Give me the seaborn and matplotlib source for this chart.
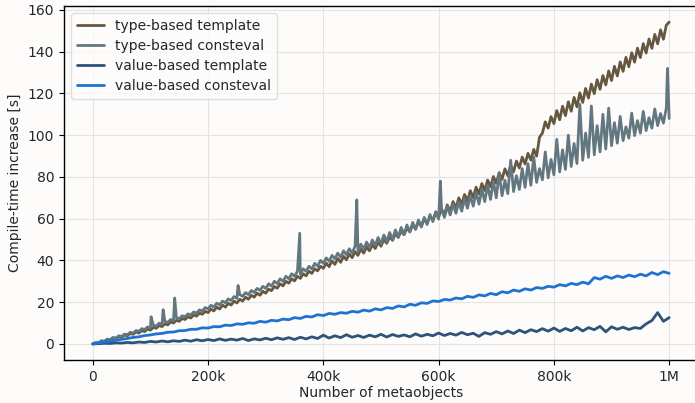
import pandas as pd
import seaborn as sns
import matplotlib.pyplot as plt
from matplotlib.ticker import FuncFormatter

# metaobject counts, in thousands
objects_k_fine = list(range(0, 1001, 5))    # type-based runs, every 5k
objects_k = list(range(0, 1001, 10))        # value-based runs, every 10k

type_template = [
    0, 0.5, 0.5, 1.4, 1.1, 2.1, 1.8, 2.8, 2.5, 3.5,
    3.2, 4.2, 3.9, 5.0, 4.6, 5.7, 5.2, 6.4, 5.9, 7.1,
    6.6, 7.9, 7.5, 8.8, 8.3, 9.6, 9.1, 10.5, 10.0, 11.3,
    10.8, 12.2, 11.7, 13.0, 12.4, 13.9, 13.3, 14.8, 14.2, 15.6,
    15.0, 16.7, 15.8, 17.6, 16.7, 18.6, 17.6, 19.5, 18.6, 20.5,
    19.6, 21.4, 20.5, 22.4, 21.4, 23.3, 22.4, 24.3, 23.3, 25.2,
    24.3, 26.3, 25.5, 27.5, 26.7, 28.8, 27.8, 30.0, 29.1, 31.2,
    30.2, 32.4, 31.4, 33.6, 32.6, 34.8, 33.8, 36.0, 35.0, 37.2,
    36.2, 38.7, 37.0, 39.8, 38.1, 40.9, 39.1, 42.0, 40.3, 43.1,
    41.3, 44.2, 42.4, 45.4, 43.5, 46.4, 44.6, 47.5, 45.7, 48.7,
    46.8, 50.0, 48.2, 51.3, 49.6, 52.8, 51.0, 54.1, 52.3, 55.5,
    53.8, 56.9, 55.2, 58.4, 56.6, 59.7, 58.0, 61.1, 59.4, 62.6,
    60.8, 64.8, 61.8, 66.6, 63.4, 68.2, 65.1, 70.0, 66.8, 71.6,
    68.5, 73.4, 70.1, 75.1, 71.9, 76.8, 73.5, 78.5, 75.3, 80.2,
    77.0, 82.0, 78.8, 83.9, 80.6, 85.7, 82.5, 87.6, 84.3, 89.5,
    86.2, 91.3, 88.1, 93.2, 90.0, 99.0, 101.0, 106.4, 103.4, 108.9,
    105.6, 111.8, 107.4, 113.9, 109.4, 116.0, 111.5, 118.1, 113.6, 120.3,
    115.7, 122.4, 117.8, 124.5, 119.9, 126.6, 122.0, 128.6, 124.1, 130.8,
    126.2, 133.0, 128.4, 135.1, 130.6, 137.3, 132.8, 139.5, 135.0, 141.7,
    137.2, 143.9, 139.4, 146.1, 141.6, 148.3, 143.8, 150.5, 146.0, 152.7,
    154.2,
]

type_consteval = [
    0, 0.6, 0.6, 1.5, 1.3, 2.3, 2.0, 3.1, 2.8, 3.9,
    3.6, 4.7, 4.4, 5.6, 5.2, 6.4, 6.0, 7.3, 6.9, 8.1,
    7.7, 9.0, 8.5, 9.9, 9.4, 10.8, 10.3, 11.7, 11.2, 12.6,
    12.1, 13.5, 13.0, 14.4, 13.9, 15.3, 14.8, 16.3, 15.8, 17.4,
    16.8, 18.5, 17.7, 19.5, 18.7, 20.5, 19.7, 21.6, 20.8, 22.7,
    21.8, 23.6, 22.8, 24.6, 23.6, 25.6, 24.6, 26.6, 25.6, 27.6,
    26.6, 28.8, 27.7, 30.0, 28.9, 31.2, 30.0, 32.4, 31.2, 33.6,
    32.4, 34.8, 33.4, 36.0, 34.8, 37.2, 35.9, 38.6, 37.2, 40.0,
    38.6, 41.2, 39.6, 42.4, 40.8, 43.5, 41.6, 44.6, 42.8, 45.6,
    43.6, 46.8, 44.4, 47.8, 45.4, 48.8, 46.2, 49.8, 47.2, 51.0,
    48.0, 52.2, 49.0, 53.4, 50.0, 54.6, 51.2, 55.8, 52.4, 57.0,
    53.6, 58.2, 54.8, 59.4, 56.0, 60.6, 57.2, 62.0, 58.6, 63.4,
    59.8, 64.6, 60.6, 65.8, 61.8, 67.0, 62.6, 68.0, 63.6, 69.6,
    65.0, 71.0, 66.0, 72.6, 67.0, 74.0, 68.2, 76.0, 69.2, 78.0,
    70.0, 82.0, 71.0, 78.4, 72.0, 88.0, 73.0, 80.6, 74.0, 84.0,
    75.0, 86.4, 76.0, 89.6, 77.4, 84.0, 78.6, 92.0, 79.6, 88.4,
    81.0, 98.0, 82.4, 93.0, 83.6, 100.0, 85.0, 96.0, 86.4, 114.8,
    88.0, 101.0, 89.4, 114.0, 90.6, 104.6, 92.0, 110.0, 93.4, 113.0,
    95.0, 106.0, 96.2, 109.0, 97.4, 104.0, 98.6, 110.6, 99.8, 107.0,
    101.0, 111.4, 102.2, 108.4, 103.4, 112.6, 104.6, 110.4, 105.8, 113.0,
    108.0,
]

# single-sample outliers of the type-based consteval run
consteval_spike_k = [101, 122, 142, 252, 359, 458, 603, 997]
consteval_spike_s = [13.0, 16.4, 22.0, 28.0, 53.0, 69.0, 78.0, 132.0]

value_template = [
    0, 0.1, 0.3, 0.2, 0.5, 0.4, 0.7, 0.5, 0.9, 0.7,
    1.2, 0.9, 1.4, 1.0, 1.5, 1.2, 1.8, 1.3, 2.0, 1.5,
    2.1, 1.6, 2.4, 1.7, 2.3, 1.8, 2.6, 1.6, 2.4, 1.9,
    2.7, 2.0, 2.9, 2.2, 3.0, 2.1, 3.2, 2.4, 3.4, 2.6,
    4.2, 2.8, 3.9, 3.0, 4.4, 3.2, 4.0, 3.1, 4.2, 3.4,
    4.6, 3.3, 4.5, 3.6, 4.3, 3.4, 4.8, 3.7, 4.6, 3.9,
    5.2, 4.0, 5.0, 4.2, 5.5, 4.4, 5.1, 3.6, 5.4, 4.6,
    5.9, 4.8, 6.2, 5.0, 6.6, 5.4, 6.8, 5.9, 7.3, 6.1,
    7.6, 6.0, 7.4, 6.3, 8.0, 6.2, 7.8, 6.8, 8.4, 5.8,
    8.2, 7.0, 8.0, 6.9, 7.8, 7.4, 9.6, 11.2, 15.0, 10.8,
    12.6,
]

value_consteval = [
    0, 0.5, 0.9, 1.4, 1.7, 2.2, 2.6, 3.1, 3.4, 4.0,
    4.3, 4.8, 5.0, 5.6, 5.7, 6.3, 6.4, 7.0, 7.0, 7.7,
    7.6, 8.3, 8.2, 9.0, 8.8, 9.6, 9.4, 10.1, 9.9, 10.8,
    10.4, 11.3, 11.0, 11.9, 11.6, 12.6, 12.2, 13.2, 12.9, 14.0,
    13.6, 14.6, 14.2, 15.0, 14.7, 15.6, 15.2, 16.2, 15.7, 16.8,
    16.3, 17.4, 17.0, 18.2, 17.7, 19.0, 18.5, 19.7, 19.4, 20.6,
    20.3, 21.3, 21.0, 22.0, 21.6, 22.8, 22.3, 23.5, 23.0, 24.2,
    23.6, 25.0, 24.5, 25.8, 25.2, 26.4, 25.8, 27.0, 26.6, 27.6,
    27.2, 28.4, 27.8, 29.0, 28.4, 29.6, 28.8, 31.8, 31.0, 32.4,
    31.4, 32.6, 31.8, 33.0, 32.2, 33.4, 32.6, 34.2, 33.2, 34.6,
    33.8,
]

labels = ["type-based template", "type-based consteval",
          "value-based template", "value-based consteval"]
colors = ["#665840", "#637780", "#2e5378", "#1e73d2"]

frames = [
    pd.DataFrame({"k": objects_k_fine, "s": type_template, "run": labels[0]}),
    pd.DataFrame({"k": objects_k_fine + consteval_spike_k,
                  "s": type_consteval + consteval_spike_s, "run": labels[1]}),
    pd.DataFrame({"k": objects_k, "s": value_template, "run": labels[2]}),
    pd.DataFrame({"k": objects_k, "s": value_consteval, "run": labels[3]}),
]
df = pd.concat(frames, ignore_index=True)
df["objects"] = df["k"] * 1000

sns.set_style("whitegrid")
plt.rcParams["font.family"] = ["DejaVu Sans"]

fig = plt.figure(figsize=(6.95, 4.03), dpi=100)
fig.patch.set_facecolor("#fdfcfb")
ax = fig.add_axes([64 / 695, 43 / 403, 634 / 695, 354 / 403])
ax.set_facecolor("#fdfcfb")

sns.lineplot(data=df, x="objects", y="s", hue="run", hue_order=labels,
             palette=dict(zip(labels, colors)), estimator=None, sort=True,
             linewidth=2, ax=ax)

ax.set_xticks([0, 200000, 400000, 600000, 800000, 1000000])
ax.xaxis.set_major_formatter(FuncFormatter(
    lambda v, _: "0" if v == 0 else ("1M" if v >= 1e6 else f"{int(v / 1000)}k")))
ax.set_yticks(range(0, 161, 20))
ax.set_xlabel("Number of metaobjects", fontsize=10, labelpad=2)
ax.set_ylabel("Compile-time increase [s]", fontsize=10)
ax.tick_params(axis="both", labelsize=10, length=3.5, width=0.8,
               direction="out", color="black", bottom=True, left=True)
ax.grid(True, color="#e6e4e2", linewidth=0.8)
for side in ax.spines.values():
    side.set_color("black")
    side.set_linewidth(1.0)

leg = ax.legend(loc="upper left", fontsize=10, frameon=True, framealpha=0.8,
                handlelength=2.0, borderpad=0.4, labelspacing=0.45)
leg.get_frame().set_edgecolor("#d8d8d8")
leg.get_frame().set_facecolor("#fdfcfb")
for line in leg.get_lines():
    line.set_linewidth(2)

fig.savefig("out.png", dpi=100, facecolor=fig.get_facecolor())
